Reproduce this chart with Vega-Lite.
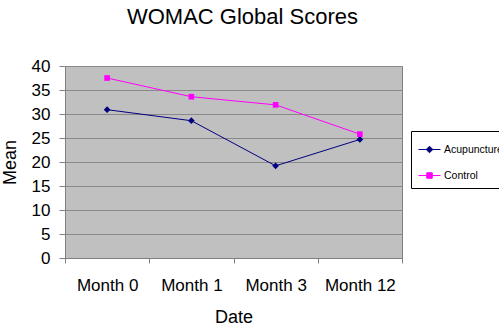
{
  "$schema": "https://vega.github.io/schema/vega-lite/v6.json",
  "width": 337,
  "height": 192,
  "autosize": "none",
  "padding": {"left": 65, "top": 66, "right": 97, "bottom": 78},
  "background": "white",
  "title": {
    "text": "WOMAC Global Scores",
    "font": "Liberation Sans",
    "fontSize": 22,
    "fontWeight": "normal",
    "color": "black",
    "anchor": "middle",
    "dx": 9,
    "baseline": "alphabetic",
    "offset": 11
  },
  "config": {
    "font": "Liberation Sans",
    "view": {"fill": "#c0c0c0", "stroke": "#808080", "strokeWidth": 1}
  },
  "data": {
    "values": [
      {"month": "Month 0", "group": "Acupuncture", "mean": 30.9},
      {"month": "Month 1", "group": "Acupuncture", "mean": 28.6},
      {"month": "Month 3", "group": "Acupuncture", "mean": 19.2},
      {"month": "Month 12", "group": "Acupuncture", "mean": 24.7},
      {"month": "Month 0", "group": "Control", "mean": 37.5},
      {"month": "Month 1", "group": "Control", "mean": 33.6},
      {"month": "Month 3", "group": "Control", "mean": 31.9},
      {"month": "Month 12", "group": "Control", "mean": 25.8}
    ]
  },
  "encoding": {
    "x": {
      "field": "month",
      "type": "nominal",
      "sort": ["Month 0", "Month 1", "Month 3", "Month 12"],
      "scale": {"type": "band", "paddingInner": 0, "paddingOuter": 0},
      "axis": {
        "title": "Date",
        "labelAngle": 0,
        "tickBand": "extent",
        "tickSize": 5,
        "labelPadding": 14,
        "labelFontSize": 17,
        "labelColor": "black",
        "titleFontSize": 18,
        "titleFontWeight": "normal",
        "titleColor": "black",
        "titlePadding": 15,
        "domainColor": "#808080",
        "tickColor": "#808080",
        "grid": false
      }
    },
    "y": {
      "field": "mean",
      "type": "quantitative",
      "scale": {"domain": [0, 40], "nice": false},
      "axis": {
        "title": "Mean",
        "values": [0, 5, 10, 15, 20, 25, 30, 35, 40],
        "tickSize": 6,
        "labelPadding": 9,
        "labelFontSize": 17,
        "labelColor": "black",
        "titleFontSize": 18,
        "titleFontWeight": "normal",
        "titleColor": "black",
        "titlePadding": 12,
        "domainColor": "#808080",
        "tickColor": "#808080",
        "grid": true,
        "gridColor": "#888888",
        "gridWidth": 1
      }
    },
    "color": {
      "field": "group",
      "type": "nominal",
      "scale": {"domain": ["Acupuncture", "Control"], "range": ["#000080", "#FF00FF"]}
    }
  },
  "layer": [
    {
      "mark": {"type": "line", "strokeWidth": 1},
      "encoding": {
        "color": {
          "field": "group",
          "type": "nominal",
          "scale": {"domain": ["Acupuncture", "Control"], "range": ["#000080", "#FF00FF"]},
          "legend": {
            "title": null,
            "orient": "none",
            "legendX": 346,
            "legendY": 65,
            "padding": 7,
            "rowPadding": 9,
            "strokeColor": "black",
            "fillColor": "white",
            "symbolSize": 484,
            "labelOffset": 3,
            "labelFontSize": 10.5,
            "labelColor": "black",
            "labelFont": "Liberation Sans",
            "encode": {
              "symbols": {
                "update": {
                  "shape": {"signal": "datum.value === 'Acupuncture' ? 'M-1,0H1M0,-0.3L0.3,0L0,0.3L-0.3,0Z' : 'M-1,0H1M-0.25,-0.25H0.25V0.25H-0.25Z'"},
                  "fill": {"signal": "scale('color', datum.value)"},
                  "stroke": {"signal": "scale('color', datum.value)"},
                  "strokeWidth": {"value": 1},
                  "opacity": {"value": 1}
                }
              }
            }
          }
        }
      }
    },
    {
      "transform": [{"filter": "datum.group === 'Acupuncture'"}],
      "mark": {"type": "point", "filled": true, "opacity": 1, "size": 45, "shape": "diamond"},
      "encoding": {"color": {"field": "group", "type": "nominal", "legend": null}}
    },
    {
      "transform": [{"filter": "datum.group === 'Control'"}],
      "mark": {"type": "point", "filled": true, "opacity": 1, "size": 32, "shape": "square"},
      "encoding": {"color": {"field": "group", "type": "nominal", "legend": null}}
    }
  ]
}
